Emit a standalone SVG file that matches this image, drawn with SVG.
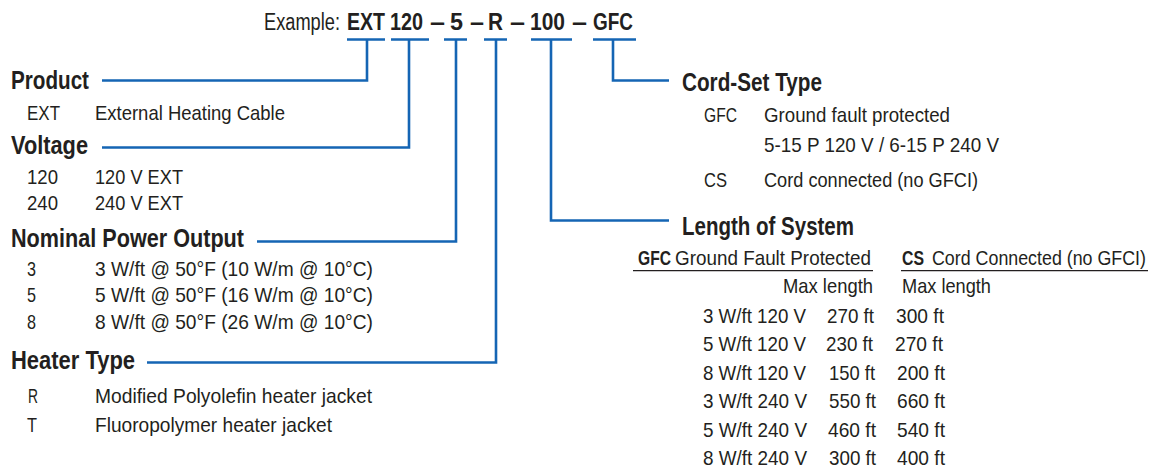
<svg xmlns="http://www.w3.org/2000/svg" width="1169" height="470" viewBox="0 0 1169 470">
<style>
text{font-family:"Liberation Sans",Arial,sans-serif;fill:#231f20;}
.t{font-size:21px;}
.h{font-size:25px;font-weight:bold;}
.b{font-weight:bold;}
.ex{font-size:23px;}
.c{fill:none;stroke:#1565b4;stroke-width:2.6;}
.u{fill:none;stroke:#231f20;stroke-width:1.2;}
</style>
<rect width="1169" height="470" fill="#ffffff"/>
<g id="code">
<text class="ex" x="264" y="30" textLength="76" lengthAdjust="spacingAndGlyphs">Example:</text>
<g class="b">
<text class="ex" x="347" y="30" textLength="38" lengthAdjust="spacingAndGlyphs">EXT</text>
<text class="ex" x="390" y="30" textLength="33" lengthAdjust="spacingAndGlyphs">120</text>
<text class="ex" x="430" y="30" textLength="15" lengthAdjust="spacingAndGlyphs">–</text>
<text class="ex" x="450" y="30" textLength="13" lengthAdjust="spacingAndGlyphs">5</text>
<text class="ex" x="470" y="30" textLength="14" lengthAdjust="spacingAndGlyphs">–</text>
<text class="ex" x="488" y="30" textLength="15" lengthAdjust="spacingAndGlyphs">R</text>
<text class="ex" x="510" y="30" textLength="15" lengthAdjust="spacingAndGlyphs">–</text>
<text class="ex" x="530" y="30" textLength="35" lengthAdjust="spacingAndGlyphs">100</text>
<text class="ex" x="572" y="30" textLength="15" lengthAdjust="spacingAndGlyphs">–</text>
<text class="ex" x="593" y="30" textLength="40" lengthAdjust="spacingAndGlyphs">GFC</text>
</g>
</g>
<g id="connectors">
<path class="c" d="M347 39.5H385 M391 39.5H429 M444 39.5H467 M484 39.5H507 M531 39.5H572 M593 39.5H636"/>
<path class="c" d="M367 39.5V80.5H102"/>
<path class="c" d="M409 39.5V147.5H102"/>
<path class="c" d="M456 39.5V241.5H257"/>
<path class="c" d="M496 39.5V362.5H147"/>
<path class="c" d="M551 39.5V220.5H669"/>
<path class="c" d="M613 39.5V80.5H669"/>
</g>
<g id="product">
<text class="h" x="11" y="89" textLength="78" lengthAdjust="spacingAndGlyphs">Product</text>
<text class="t" x="27" y="119.5" textLength="33" lengthAdjust="spacingAndGlyphs">EXT</text>
<text class="t" x="95" y="119.5" textLength="190" lengthAdjust="spacingAndGlyphs">External Heating Cable</text>
</g>
<g id="voltage">
<text class="h" x="11" y="153.5" textLength="77" lengthAdjust="spacingAndGlyphs">Voltage</text>
<text class="t" x="27" y="183.5" textLength="31" lengthAdjust="spacingAndGlyphs">120</text>
<text class="t" x="95" y="183.5" textLength="88" lengthAdjust="spacingAndGlyphs">120 V EXT</text>
<text class="t" x="27" y="209.5" textLength="31" lengthAdjust="spacingAndGlyphs">240</text>
<text class="t" x="95" y="209.5" textLength="88" lengthAdjust="spacingAndGlyphs">240 V EXT</text>
</g>
<g id="power">
<text class="h" x="11" y="247" textLength="233" lengthAdjust="spacingAndGlyphs">Nominal Power Output</text>
<text class="t" x="27" y="275.5" textLength="9" lengthAdjust="spacingAndGlyphs">3</text>
<text class="t" x="95" y="275.5" textLength="278" lengthAdjust="spacingAndGlyphs">3 W/ft @ 50°F (10 W/m @ 10°C)</text>
<text class="t" x="27" y="302" textLength="9" lengthAdjust="spacingAndGlyphs">5</text>
<text class="t" x="95" y="302" textLength="278" lengthAdjust="spacingAndGlyphs">5 W/ft @ 50°F (16 W/m @ 10°C)</text>
<text class="t" x="27" y="328.5" textLength="9" lengthAdjust="spacingAndGlyphs">8</text>
<text class="t" x="95" y="328.5" textLength="278" lengthAdjust="spacingAndGlyphs">8 W/ft @ 50°F (26 W/m @ 10°C)</text>
</g>
<g id="heater">
<text class="h" x="11" y="368.5" textLength="124" lengthAdjust="spacingAndGlyphs">Heater Type</text>
<text class="t" x="28" y="403" textLength="10" lengthAdjust="spacingAndGlyphs">R</text>
<text class="t" x="95" y="403" textLength="277" lengthAdjust="spacingAndGlyphs">Modified Polyolefin heater jacket</text>
<text class="t" x="27" y="432" textLength="10" lengthAdjust="spacingAndGlyphs">T</text>
<text class="t" x="95" y="432" textLength="237" lengthAdjust="spacingAndGlyphs">Fluoropolymer heater jacket</text>
</g>
<g id="cordset">
<text class="h" x="682" y="90.5" textLength="140" lengthAdjust="spacingAndGlyphs">Cord-Set Type</text>
<text class="t" x="704" y="121.5" textLength="33" lengthAdjust="spacingAndGlyphs">GFC</text>
<text class="t" x="764" y="121.5" textLength="186" lengthAdjust="spacingAndGlyphs">Ground fault protected</text>
<text class="t" x="764" y="151.5" textLength="235" lengthAdjust="spacingAndGlyphs">5-15 P 120 V / 6-15 P 240 V</text>
<text class="t" x="704" y="186.5" textLength="23" lengthAdjust="spacingAndGlyphs">CS</text>
<text class="t" x="764" y="186.5" textLength="214" lengthAdjust="spacingAndGlyphs">Cord connected (no GFCI)</text>
</g>
<g id="length">
<text class="h" x="682" y="234.5" textLength="172" lengthAdjust="spacingAndGlyphs">Length of System</text>
<text class="t b" x="638" y="264.5" textLength="33" lengthAdjust="spacingAndGlyphs">GFC</text>
<text class="t" x="675" y="264.5" textLength="196" lengthAdjust="spacingAndGlyphs">Ground Fault Protected</text>
<path class="u" d="M633 270.7H873 M901 270.7H1148"/>
<text class="t b" x="902" y="264.5" textLength="22" lengthAdjust="spacingAndGlyphs">CS</text>
<text class="t" x="932" y="264.5" textLength="214" lengthAdjust="spacingAndGlyphs">Cord Connected (no GFCI)</text>
<text class="t" x="783" y="293.3" textLength="90" lengthAdjust="spacingAndGlyphs">Max length</text>
<text class="t" x="902" y="293.3" textLength="89" lengthAdjust="spacingAndGlyphs">Max length</text>
<text class="t" x="703" y="322.5" textLength="103" lengthAdjust="spacingAndGlyphs">3 W/ft 120 V</text>
<text class="t" x="827" y="322.5" textLength="47" lengthAdjust="spacingAndGlyphs">270 ft</text>
<text class="t" x="896" y="322.5" textLength="48" lengthAdjust="spacingAndGlyphs">300 ft</text>
<text class="t" x="703" y="351" textLength="103" lengthAdjust="spacingAndGlyphs">5 W/ft 120 V</text>
<text class="t" x="826" y="351" textLength="47" lengthAdjust="spacingAndGlyphs">230 ft</text>
<text class="t" x="895" y="351" textLength="48" lengthAdjust="spacingAndGlyphs">270 ft</text>
<text class="t" x="703" y="379.5" textLength="103" lengthAdjust="spacingAndGlyphs">8 W/ft 120 V</text>
<text class="t" x="829" y="379.5" textLength="46" lengthAdjust="spacingAndGlyphs">150 ft</text>
<text class="t" x="897" y="379.5" textLength="48" lengthAdjust="spacingAndGlyphs">200 ft</text>
<text class="t" x="703" y="408" textLength="104" lengthAdjust="spacingAndGlyphs">3 W/ft 240 V</text>
<text class="t" x="829" y="408" textLength="47" lengthAdjust="spacingAndGlyphs">550 ft</text>
<text class="t" x="897" y="408" textLength="48" lengthAdjust="spacingAndGlyphs">660 ft</text>
<text class="t" x="703" y="436.5" textLength="104" lengthAdjust="spacingAndGlyphs">5 W/ft 240 V</text>
<text class="t" x="828" y="436.5" textLength="48" lengthAdjust="spacingAndGlyphs">460 ft</text>
<text class="t" x="897" y="436.5" textLength="48" lengthAdjust="spacingAndGlyphs">540 ft</text>
<text class="t" x="703" y="465" textLength="104" lengthAdjust="spacingAndGlyphs">8 W/ft 240 V</text>
<text class="t" x="829" y="465" textLength="47" lengthAdjust="spacingAndGlyphs">300 ft</text>
<text class="t" x="897" y="465" textLength="48" lengthAdjust="spacingAndGlyphs">400 ft</text>
</g>
</svg>
